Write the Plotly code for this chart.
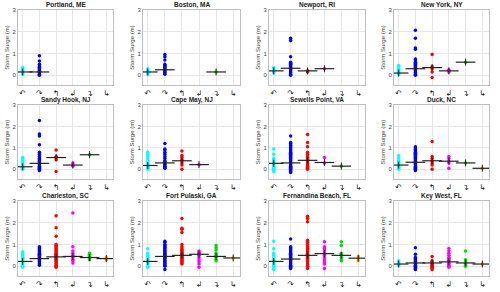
import plotly.graph_objects as go

stations = ["Portland, ME", "Boston, MA", "Newport, RI", "New York, NY",
            "Sandy Hook, NJ", "Cape May, NJ", "Sewells Point, VA", "Duck, NC",
            "Charleston, SC", "Fort Pulaski, GA", "Fernandina Beach, FL", "Key West, FL"]
track_labels = ["↶", "↷", "↰", "↲", "↴", "↳"]
colors = ["#00ffff", "#0000ff", "#ff0000", "#ff00ff", "#00dd00", "#ffa500"]

# surge values per station, per track category (m)
surge = {
    "Portland, ME": [[0.05, 0.1, 0.15, 0.2, 0.25, 0.3, 0.35],
                     [0.0, 0.05, 0.1, 0.12, 0.15, 0.18, 0.2, 0.25, 0.3, 0.35, 0.4, 0.5, 0.65, 0.9],
                     [], [], [], []],
    "Boston, MA": [[0.05, 0.1, 0.12, 0.15, 0.2, 0.25, 0.3],
                   [0.05, 0.1, 0.15, 0.2, 0.25, 0.3, 0.35, 0.4, 0.45, 0.5, 0.7, 0.85, 0.95],
                   [], [], [0.15], []],
    "Newport, RI": [[0.1, 0.15, 0.2, 0.25, 0.3, 0.35],
                    [0.0, 0.05, 0.1, 0.15, 0.2, 0.25, 0.3, 0.35, 0.4, 0.45, 0.5, 0.55, 0.6, 0.85, 1.6, 1.7],
                    [0.15, 0.2], [0.3], [], []],
    "New York, NY": [[0.05, 0.1, 0.15, 0.2, 0.25, 0.3, 0.4, 0.45],
                     [0.0, 0.05, 0.1, 0.15, 0.2, 0.25, 0.3, 0.35, 0.4, 0.45, 0.5, 0.55, 0.6, 0.7, 0.75, 1.2, 1.25, 1.7, 2.07],
                     [-0.1, 0.15, 0.3, 0.4, 0.95], [0.15, 0.2, 0.25], [0.6], []],
    "Sandy Hook, NJ": [[0.0, 0.05, 0.1, 0.15, 0.2, 0.25, 0.3, 0.4, 0.5, 0.55],
                       [-0.05, 0.0, 0.05, 0.1, 0.15, 0.2, 0.25, 0.3, 0.35, 0.4, 0.45, 0.5, 0.6, 0.7, 0.8, 1.15, 1.55, 1.65, 2.28],
                       [-0.1, 0.45, 0.55, 0.6, 0.9], [0.15, 0.2, 0.3], [0.68], []],
    "Cape May, NJ": [[0.0, 0.05, 0.1, 0.15, 0.18, 0.2, 0.25, 0.3, 0.4, 0.5, 0.6, 0.7, 0.8],
                     [0.05, 0.1, 0.15, 0.2, 0.25, 0.3, 0.35, 0.4, 0.5, 0.6, 0.7, 0.8, 0.9, 0.95, 1.2],
                     [0.0, 0.2, 0.3, 0.4, 0.45, 0.55, 0.65, 0.85], [0.22], [], []],
    "Sewells Point, VA": [[-0.1, -0.05, 0.0, 0.05, 0.1, 0.15, 0.2, 0.25, 0.28, 0.3, 0.35, 0.4, 0.45, 0.5, 0.7, 0.95],
                          [-0.15, -0.1, -0.05, 0.0, 0.05, 0.1, 0.15, 0.2, 0.25, 0.3, 0.35, 0.4, 0.45, 0.5, 0.55, 0.6,
                           0.65, 0.7, 0.75, 0.8, 0.85, 0.9, 0.95, 1.0, 1.05, 1.1, 1.15, 1.2, 1.25, 1.55],
                          [0.0, 0.05, 0.1, 0.15, 0.2, 0.3, 0.35, 0.4, 0.42, 0.45, 0.5, 0.55, 0.6, 0.7, 0.8, 1.05, 1.25, 1.62],
                          [0.3, 0.55], [0.15], []],
    "Duck, NC": [[0.0, 0.05, 0.1, 0.15, 0.2, 0.25, 0.3, 0.35, 0.4, 0.5, 0.65],
                 [-0.05, 0.0, 0.05, 0.1, 0.15, 0.2, 0.25, 0.3, 0.33, 0.35, 0.4, 0.45, 0.5, 0.55, 0.6, 0.65, 0.7,
                  0.75, 0.8, 0.85, 0.9, 0.95, 1.0, 1.05],
                 [0.0, 0.2, 0.3, 0.4, 0.5, 0.6, 1.3], [0.05, 0.3, 0.38, 0.5, 0.6], [0.3], [0.05]],
    "Charleston, SC": [[-0.05, 0.0, 0.05, 0.1, 0.15, 0.2, 0.22, 0.25, 0.3, 0.35, 0.4, 0.5, 0.6, 0.65],
                       [0.05, 0.1, 0.15, 0.2, 0.25, 0.3, 0.35, 0.4, 0.45, 0.5, 0.55, 0.6, 0.65, 0.7, 0.75, 0.8, 0.85, 0.9],
                       [-0.05, 0.0, 0.05, 0.1, 0.15, 0.2, 0.25, 0.3, 0.35, 0.4, 0.43, 0.45, 0.5, 0.55, 0.6, 0.65,
                        0.7, 0.75, 0.8, 0.85, 0.9, 0.95, 1.0, 1.38, 1.77, 2.32],
                       [0.15, 0.25, 0.3, 0.4, 0.45, 0.5, 0.6, 0.7, 0.9, 2.45],
                       [0.3, 0.35, 0.4, 0.45, 0.5, 0.55, 0.6], [0.3, 0.35, 0.4]],
    "Fort Pulaski, GA": [[-0.05, 0.0, 0.1, 0.15, 0.2, 0.22, 0.25, 0.3, 0.4, 0.5, 0.6, 0.8],
                         [-0.15, 0.0, 0.05, 0.1, 0.15, 0.2, 0.25, 0.3, 0.35, 0.4, 0.45, 0.5, 0.55, 0.6, 0.65, 0.7,
                          0.75, 0.8, 0.85, 0.9, 0.95, 1.0, 1.1, 1.15],
                         [0.1, 0.15, 0.2, 0.25, 0.3, 0.35, 0.4, 0.45, 0.5, 0.55, 0.6, 0.65, 0.7, 0.75, 0.8, 0.9, 1.0,
                          1.55, 1.7, 1.75, 2.2],
                         [-0.05, 0.1, 0.2, 0.3, 0.4, 0.5, 0.55, 0.6, 0.65, 0.7],
                         [0.25, 0.3, 0.4, 0.45, 0.5, 0.6, 0.75, 0.85, 0.95], [0.38]],
    "Fernandina Beach, FL": [[-0.15, -0.1, 0.0, 0.05, 0.1, 0.15, 0.2, 0.22, 0.25, 0.3, 0.4, 0.5, 0.6, 0.8, 1.15],
                             [-0.1, -0.05, 0.0, 0.05, 0.1, 0.15, 0.2, 0.25, 0.3, 0.33, 0.35, 0.4, 0.45, 0.5, 0.55, 0.6,
                              0.65, 0.7, 0.75, 0.8, 0.85, 0.9, 1.25],
                             [-0.1, 0.0, 0.1, 0.2, 0.25, 0.3, 0.35, 0.4, 0.45, 0.5, 0.55, 0.6, 0.65, 0.7, 0.75, 0.8,
                              0.9, 1.0, 1.1, 1.2, 2.05, 2.2, 2.3],
                             [-0.1, 0.1, 0.2, 0.3, 0.4, 0.5, 0.58, 0.6, 0.7, 0.8, 0.9, 1.12],
                             [0.25, 0.3, 0.4, 0.5, 0.55, 0.6, 0.95, 1.12], [0.25, 0.35, 0.45]],
    "Key West, FL": [[0.05, 0.08, 0.1, 0.15, 0.2, 0.25],
                     [-0.15, -0.1, -0.05, 0.0, 0.05, 0.1, 0.15, 0.2, 0.25, 0.3, 0.35, 0.4, 0.55, 0.85],
                     [-0.15, -0.1, -0.05, 0.0, 0.05, 0.1, 0.15, 0.2, 0.25, 0.45],
                     [-0.05, 0.0, 0.05, 0.1, 0.15, 0.2, 0.25, 0.3, 0.35, 0.4, 0.5, 0.6, 0.7, 0.82],
                     [0.0, 0.05, 0.1, 0.15, 0.2, 0.3, 0.7], [0.1]],
}
medians = {
    "Portland, ME": [0.15, 0.15, None, None, None, None],
    "Boston, MA": [0.15, 0.25, None, None, 0.15, None],
    "Newport, RI": [0.2, 0.32, 0.2, 0.3, None, None],
    "New York, NY": [0.1, 0.3, 0.35, 0.2, 0.6, None],
    "Sandy Hook, NJ": [0.12, 0.28, 0.55, 0.2, 0.68, None],
    "Cape May, NJ": [0.18, 0.3, 0.4, 0.22, None, None],
    "Sewells Point, VA": [0.28, 0.3, 0.42, 0.32, 0.15, None],
    "Duck, NC": [0.2, 0.33, 0.4, 0.38, 0.3, 0.05],
    "Charleston, SC": [0.22, 0.35, 0.43, 0.45, 0.4, 0.35],
    "Fort Pulaski, GA": [0.22, 0.45, 0.5, 0.55, 0.45, 0.38],
    "Fernandina Beach, FL": [0.22, 0.33, 0.5, 0.58, 0.5, 0.37],
    "Key West, FL": [0.1, 0.15, 0.15, 0.2, 0.15, 0.1],
}

W, H = 500, 292
xdoms = [(18, 113), (143, 240), (269, 365), (394, 489)]
ydoms = [(10, 85), (105, 179), (201, 276)]

fig = go.Figure()
font = "Liberation Sans, Arial, sans-serif"
for i, st in enumerate(stations):
    r, c = divmod(i, 4)
    n = i + 1
    xa = "x" if n == 1 else f"x{n}"
    ya = "y" if n == 1 else f"y{n}"
    for k in range(6):
        vals = surge[st][k]
        if vals:
            fig.add_trace(go.Scatter(
                x=[k + 1] * len(vals), y=vals, mode="markers", xaxis=xa, yaxis=ya,
                marker=dict(color=colors[k], size=3.5, symbol="circle", line=dict(width=0)),
                showlegend=False, hoverinfo="y"))
        m = medians[st][k]
        if m is not None:
            fig.add_trace(go.Scatter(
                x=[k + 1], y=[m], mode="markers", xaxis=xa, yaxis=ya,
                marker=dict(symbol="line-ew", size=14, line=dict(color="#222222", width=1.2)),
                showlegend=False, hoverinfo="y"))
            fig.add_trace(go.Scatter(
                x=[k + 1], y=[m], mode="markers", xaxis=xa, yaxis=ya,
                marker=dict(symbol="line-ns", size=5, line=dict(color="#222222", width=1)),
                showlegend=False, hoverinfo="skip"))
    x0, x1 = xdoms[c]
    y0, y1 = ydoms[r]
    axis_common = dict(showgrid=True, gridcolor="#e6e6e6", gridwidth=1, zeroline=False,
                       showline=True, linecolor="#bfbfbf", linewidth=1, mirror=True,
                       ticks="", automargin=False)
    fig.layout[("xaxis" if n == 1 else f"xaxis{n}")] = dict(
        domain=[x0 / W, x1 / W], anchor=ya, range=[0.72, 6.4],
        tickmode="array", tickvals=[1, 2, 3, 4, 5, 6], ticktext=track_labels,
        tickfont=dict(size=8, color="#222222", family="DejaVu Sans"),
        **axis_common)
    fig.layout[("yaxis" if n == 1 else f"yaxis{n}")] = dict(
        domain=[1 - y1 / H, 1 - y0 / H], anchor=xa, range=[-0.45, 3.0],
        tickvals=[0, 1, 2, 3], tickfont=dict(size=6, color="#404040", family=font),
        title=dict(text="Storm Surge (m)", standoff=2,
                   font=dict(size=6, color="#404040", family=font)),
        **axis_common)
    fig.add_annotation(text=f"<b>{st}</b>", x=(x0 + x1) / 2 / W, y=1 - (y0 - 5) / H,
                       xref="paper", yref="paper", xanchor="center", yanchor="middle",
                       showarrow=False, borderpad=0,
                       font=dict(size=6.5, color="#222222", family=font))

fig.update_layout(width=W, height=H, margin=dict(l=0, r=0, t=0, b=0),
                  paper_bgcolor="white", plot_bgcolor="white")
fig.write_html("out.html", config={"displayModeBar": False},
               post_script="document.body.style.margin='0';")
